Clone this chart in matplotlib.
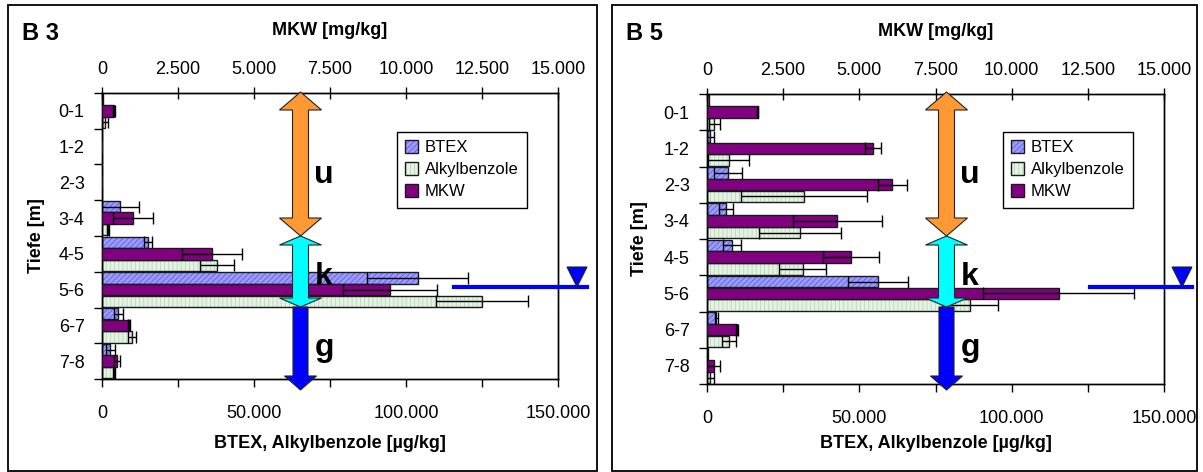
import numpy as np
import matplotlib
matplotlib.use('Agg')
import matplotlib.pyplot as plt
from matplotlib.patches import Patch, Polygon, Rectangle
from matplotlib.lines import Line2D
from matplotlib.ticker import MultipleLocator, FuncFormatter
from matplotlib.legend_handler import HandlerTuple

plt.rcParams['font.family'] = ['Liberation Sans', 'DejaVu Sans']
plt.rcParams['hatch.linewidth'] = 0.6

# ---------------- data ----------------
depths = ['0-1', '1-2', '2-3', '3-4', '4-5', '5-6', '6-7', '7-8']
series_names = ['BTEX', 'Alkylbenzole', 'MKW']

# B 3  (BTEX, Alkylbenzole in µg/kg ; MKW in mg/kg)
b3_btex = [200, 0, 0, 5900, 15100, 103800, 5300, 2700]
b3_btex_err = [0, 0, 0, 6200, 1300, 16500, 1500, 1500]
b3_alkyl = [900, 0, 0, 2000, 37800, 125100, 9800, 4000]
b3_alkyl_err = [1000, 0, 0, 300, 5700, 15100, 1400, 300]
b3_mkw = [390, 0, 0, 1020, 3620, 9470, 890, 500]
b3_mkw_err = [40, 0, 0, 670, 1000, 1550, 30, 100]

# B 5
b5_btex = [600, 1100, 6900, 6300, 8200, 56100, 3000, 400]
b5_btex_err = [0, 1300, 4600, 2300, 2800, 9900, 500, 0]
b5_alkyl = [2400, 7100, 31800, 30600, 31400, 86200, 7300, 900]
b5_alkyl_err = [1900, 6800, 20800, 13500, 7700, 9200, 2350, 1400]
b5_mkw = [1660, 5450, 6080, 4280, 4720, 11540, 985, 220]
b5_mkw_err = [30, 250, 480, 1470, 910, 2490, 30, 210]

panel_titles = ['B 3', 'B 5']
zone_labels = ['u', 'k', 'g']
xlabel_bottom = 'BTEX, Alkylbenzole [µg/kg]'
xlabel_top = 'MKW [mg/kg]'
ylabel = 'Tiefe [m]'

# ---------------- style ----------------
W, H = 1203, 472
fig = plt.figure(figsize=(W / 100, H / 100), dpi=100)
fig.patch.set_facecolor('white')

BTEX_FACE, BTEX_HATCH = '#9c9cff', '#5c5ce8'
ALK_FACE, ALK_HATCH = '#e4f2e4', '#b8d8b8'
MKW_FACE = '#800080'
EDGE = '#1a1a1a'
ORANGE, CYAN, BLUE = '#ff9933', '#00ffff', '#0000ff'


def px(x, y):
    return (x / W, 1 - y / H)


def rect(x0, y0, x1, y1):
    return [x0 / W, 1 - y1 / H, (x1 - x0) / W, (y1 - y0) / H]


def de_fmt(v, pos=None):
    return f"{v:,.0f}".replace(',', '.')


def hatched_barh(ax, y, w, h, face, hcol, hatch):
    ax.barh(y, w, height=h, color=face, edgecolor=hcol, linewidth=0,
            hatch=hatch, zorder=2)
    ax.barh(y, w, height=h, fill=False, edgecolor=EDGE, linewidth=1, zorder=3)


def errbars(ax, y, w, err):
    w = np.asarray(w, float); err = np.asarray(err, float); y = np.asarray(y, float)
    m = err > 0
    ax.errorbar(w[m], y[m], xerr=err[m], fmt='none', ecolor='black',
                elinewidth=1, capsize=4, capthick=1, zorder=4)


def poly_px(points, color):
    pts = [px(x, y) for x, y in points]
    p = Polygon(pts, closed=True, facecolor=color, edgecolor='#222222',
                linewidth=0.8, transform=fig.transFigure, zorder=10)
    fig.add_artist(p)


def double_arrow(cx, yt, yb, hl, hw, sw, color):
    pts = [(cx, yt), (cx + hw, yt + hl), (cx + sw, yt + hl), (cx + sw, yb - hl),
           (cx + hw, yb - hl), (cx, yb), (cx - hw, yb - hl), (cx - sw, yb - hl),
           (cx - sw, yt + hl), (cx - hw, yt + hl)]
    poly_px(pts, color)


def down_arrow(cx, yt, yb, hl, hw, sw, color):
    pts = [(cx - sw, yt), (cx + sw, yt), (cx + sw, yb - hl), (cx + hw, yb - hl),
           (cx, yb), (cx - hw, yb - hl), (cx - sw, yb - hl)]
    poly_px(pts, color)


def panel(title, frame, axbox, btex, btex_err, alk, alk_err, mkw, mkw_err,
          arrow_cx, legend_x, wl_x0, tri_cx):
    # frame
    fig.add_artist(Rectangle(px(frame[0], frame[3]), (frame[2] - frame[0]) / W,
                             (frame[3] - frame[1]) / H, fill=False,
                             edgecolor='black', linewidth=1.3,
                             transform=fig.transFigure))
    x0, y0, x1, y1 = axbox
    ax = fig.add_axes(rect(x0, y0, x1, y1))
    ax2 = ax.twiny()
    y = np.arange(len(depths))
    bh, off = 0.32, 0.325
    hatched_barh(ax, y - off, btex, bh, BTEX_FACE, BTEX_HATCH, '//////')
    hatched_barh(ax, y + off, alk, bh, ALK_FACE, ALK_HATCH, '||||')
    ax2.barh(y, mkw, height=bh, color=MKW_FACE, edgecolor=EDGE, linewidth=1, zorder=3)
    errbars(ax, y - off, btex, btex_err)
    errbars(ax, y + off, alk, alk_err)
    errbars(ax2, y, mkw, mkw_err)

    ax.set_xlim(0, 150000)
    ax2.set_xlim(0, 15000)
    ax.set_ylim(len(depths) - 0.5, -0.5)

    ax.xaxis.set_major_locator(MultipleLocator(50000))
    ax.xaxis.set_minor_locator(MultipleLocator(25000))
    ax.xaxis.set_major_formatter(FuncFormatter(de_fmt))
    ax.tick_params(axis='x', which='both', direction='out', length=6, width=1,
                   labelsize=13, pad=12.5)
    ax2.xaxis.set_major_locator(MultipleLocator(2500))
    ax2.xaxis.set_major_formatter(FuncFormatter(de_fmt))
    ax2.tick_params(axis='x', direction='inout', length=8, width=1,
                    labelsize=13, pad=6.5)

    ax.set_yticks(y)
    ax.set_yticklabels(depths)
    ax.set_yticks(np.arange(-0.5, len(depths)), minor=True)
    ax.tick_params(axis='y', which='major', length=0, labelsize=13, pad=12.5)
    ax.tick_params(axis='y', which='minor', direction='out', length=6, width=1)

    for a in (ax, ax2):
        for s in a.spines.values():
            s.set_color('black'); s.set_linewidth(1)

    ax.set_xlabel(xlabel_bottom, fontsize=13, fontweight='bold')
    ax.xaxis.set_label_coords(0.5, (y1 - 443) / (y1 - y0))
    ax.xaxis.label.set_va('center')
    ax2.set_xlabel(xlabel_top, fontsize=13, fontweight='bold')
    ax2.xaxis.set_label_coords(0.5, (y1 - 31) / (y1 - y0))
    ax2.xaxis.label.set_va('center')
    ax.set_ylabel(ylabel, fontsize=13, fontweight='bold')
    ax.yaxis.set_label_coords((frame[0] + 28 - x0) / (x1 - x0), 0.5)
    ax.yaxis.label.set_va('center')

    fig.text(*px(frame[0] + 14, 33), title, fontsize=17, fontweight='bold',
             ha='left', va='center')

    # zone arrows
    double_arrow(arrow_cx, 92, 236, 18, 21, 8, ORANGE)
    double_arrow(arrow_cx, 236, 307, 9, 21, 8, CYAN)
    down_arrow(arrow_cx, 307, 390, 14, 16, 7.5, BLUE)
    for lab, base in zip(zone_labels, [183, 285, 356]):
        fig.text(*px(arrow_cx + 14, base), lab, fontsize=23, fontweight='bold',
                 ha='left', va='baseline')

    # water level
    fig.add_artist(Line2D([wl_x0 / W, (tri_cx + 10) / W], [1 - 287 / H] * 2,
                          color=BLUE, linewidth=3, transform=fig.transFigure,
                          zorder=9))
    poly_px([(tri_cx - 10, 267), (tri_cx + 10, 267), (tri_cx, 287)], BLUE)

    # legend
    h_btex = (Patch(facecolor=BTEX_FACE, edgecolor=BTEX_HATCH, hatch='//////', linewidth=0),
              Patch(fill=False, edgecolor=EDGE, linewidth=1))
    h_alk = (Patch(facecolor=ALK_FACE, edgecolor=ALK_HATCH, hatch='||||', linewidth=0),
             Patch(fill=False, edgecolor=EDGE, linewidth=1))
    h_mkw = Patch(facecolor=MKW_FACE, edgecolor=EDGE, linewidth=1)
    leg = fig.legend([h_btex, h_alk, h_mkw], series_names, loc='upper left',
                     bbox_to_anchor=px(legend_x, 132), bbox_transform=fig.transFigure,
                     fontsize=12, frameon=True, fancybox=False, edgecolor='black',
                     framealpha=1, borderpad=0.5, handlelength=0.75,
                     handleheight=0.75, handletextpad=0.4, labelspacing=0.42,
                     borderaxespad=0, handler_map={tuple: HandlerTuple(ndivide=1)})
    leg.get_frame().set_linewidth(1)
    return ax, ax2


panel(panel_titles[0], (8, 5, 597, 471), (102, 93, 558, 379),
      b3_btex, b3_btex_err, b3_alkyl, b3_alkyl_err, b3_mkw, b3_mkw_err,
      300.5, 397, 454, 577)
panel(panel_titles[1], (612, 5, 1197, 471), (707, 94, 1164, 384),
      b5_btex, b5_btex_err, b5_alkyl, b5_alkyl_err, b5_mkw, b5_mkw_err,
      946.5, 1003, 1090, 1182)

fig.savefig('out.png', dpi=100)
